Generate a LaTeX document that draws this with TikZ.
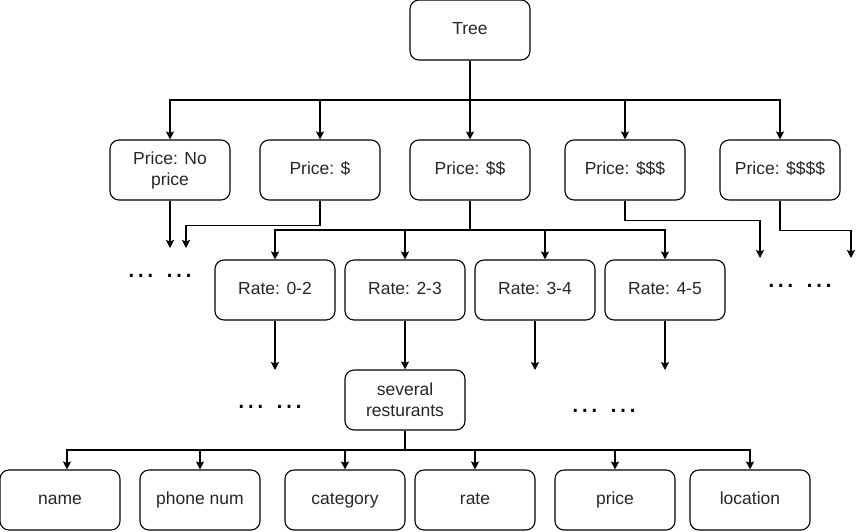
\documentclass[tikz,border=0pt]{standalone}
\usepackage{fontspec}
\setmainfont{Liberation Sans}
\usetikzlibrary{arrows.meta}
\tikzset{
  box/.style={draw, rounded corners=9pt, minimum width=120pt, minimum height=60pt,
    align=center, line width=1.1pt, inner sep=2pt,
    font=\fontsize{17.5}{21}\selectfont, text=black!85},
  line1/.style={box, text height=12.6pt, text depth=3.7pt},
  arr/.style={line width=1.1pt, -{Stealth[length=8pt,width=8pt,inset=1.5pt]}},
  dots/.style={font=\fontsize{30}{30}\selectfont, anchor=base, inner sep=0pt}
}
\begin{document}
\begin{tikzpicture}[x=1pt,y=-1pt]
\useasboundingbox (0,0) rectangle (859,531);
% nodes
\node[line1] (tree) at (470,30) {Tree};
\node[box] (p0) at (170,170) {Price: No\\price};
\node[line1] (p1) at (320,170) {Price: \$};
\node[line1] (p2) at (470,170) {Price: \$\$};
\node[line1] (p3) at (625,170) {Price: \$\$\$};
\node[line1] (p4) at (780,170) {Price: \$\$\$\$};
\node[line1] (r0) at (275,290) {Rate: 0-2};
\node[line1] (r1) at (405,290) {Rate: 2-3};
\node[line1] (r2) at (535,290) {Rate: 3-4};
\node[line1] (r3) at (665,290) {Rate: 4-5};
\node[box] (s) at (405,400) {several\\resturants};
\node[line1] (a0) at (60,500) {name};
\node[line1] (a1) at (200,500) {phone num};
\node[line1] (a2) at (345,500) {category};
\node[line1] (a3) at (475,500) {rate};
\node[line1] (a4) at (615,500) {price};
\node[line1] (a5) at (750,500) {location};
% dots
\node[dots] (t1) at (160,277.5) {… …};
\node[dots] (t2) at (800,287.5) {… …};
\node[dots] (t3) at (270,408) {… …};
\node[dots] (t4) at (604,412) {… …};
% junctions and free ends
\coordinate (j1) at (470,100);
\coordinate (j2) at (470,230);
\coordinate (j3) at (405,450);
\coordinate (d1) at (170,248);
\coordinate (d2) at (186,248);
\coordinate (d3) at (760,258);
\coordinate (d4) at (851,258);
\coordinate (d5) at (275,370);
\coordinate (d6) at (535,370);
\coordinate (d7) at (665,370);
% connectors
\foreach \n in {p0,p1,p2,p3,p4}
  \draw[arr] (tree.south) -- (j1) -| (\n.north);
\draw[arr] (p0.south) -- (d1);
\draw[arr] (p1.south) -- ++(0,25) -| (d2);
\draw[arr] (p2.south) -- (j2) -| (r0.north);
\draw[arr] (p2.south) -- (j2) -| (r1.north);
\draw[arr] (p2.south) -- (j2) -| ([xshift=10pt]r2.north);
\draw[arr] (p2.south) -- (j2) -| (r3.north);
\draw[arr] (p3.south) -- ++(0,20) -| (d3);
\draw[arr] (p4.south) -- ++(0,30) -| (d4);
\draw[arr] (r0.south) -- (d5);
\draw[arr] (r1.south) -- (s.north);
\draw[arr] (r2.south) -- (d6);
\draw[arr] (r3.south) -- (d7);
\draw[arr] (s.south) -- (j3) -| ([xshift=7pt]a0.north);
\foreach \n in {a1,a2,a3,a4,a5}
  \draw[arr] (s.south) -- (j3) -| (\n.north);
\end{tikzpicture}
\end{document}
